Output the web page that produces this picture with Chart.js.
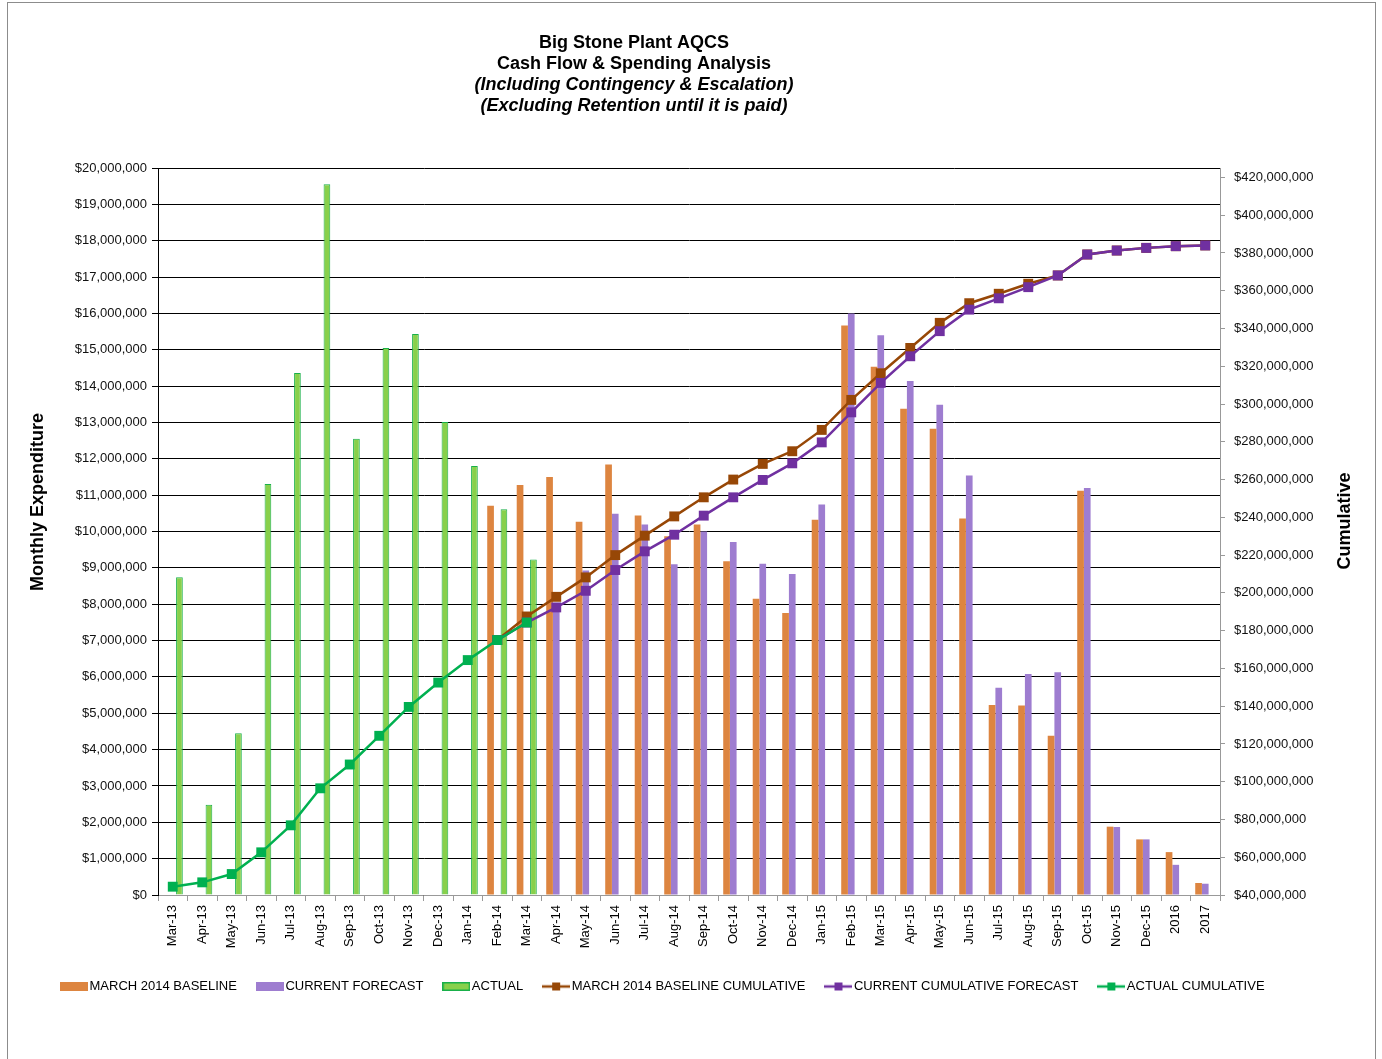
<!DOCTYPE html>
<html>
<head>
<meta charset="utf-8">
<script src="https://cdn.jsdelivr.net/npm/chart.js@4.4.0/dist/chart.umd.min.js"></script>
<style>
html, body { margin: 0; padding: 0; background: #fff; }
#frame { position: absolute; left: 7px; top: 2px; width: 1367px; height: 1080px; border: 1px solid #8c8c8c; }
#wrap { position: absolute; left: 0; top: 0; width: 1382px; height: 1059px; }
</style>
</head>
<body>
<div id="frame"></div>
<div id="wrap"><canvas id="myChart"></canvas></div>
<script>
// values in millions of dollars
const labels = ['Mar-13','Apr-13','May-13','Jun-13','Jul-13','Aug-13','Sep-13','Oct-13','Nov-13','Dec-13',
  'Jan-14','Feb-14','Mar-14','Apr-14','May-14','Jun-14','Jul-14','Aug-14','Sep-14','Oct-14','Nov-14','Dec-14',
  'Jan-15','Feb-15','Mar-15','Apr-15','May-15','Jun-15','Jul-15','Aug-15','Sep-15','Oct-15','Nov-15','Dec-15',
  '2016','2017'];

const baseline = [null,null,null,null,null,null,null,null,null,null,null,
  10.71, 11.28, 11.50, 10.27, 11.84, 10.44, 9.87, 10.19, 9.18, 8.15, 7.76,
  10.32, 15.67, 14.53, 13.38, 12.83, 10.36, 5.23, 5.21, 4.38, 11.12, 1.88, 1.53,
  1.18, 0.33];

const forecast = [null,null,null,null,null,null,null,null,null,null,null,null,null,
  8.00, 8.93, 10.49, 10.19, 9.10, 10.00, 9.71, 9.11, 8.83,
  10.74, 16.00, 15.40, 14.14, 13.49, 11.54, 5.70, 6.08, 6.13, 11.20, 1.87, 1.53,
  0.83, 0.31];

const actual = [8.74, 2.48, 4.45, 11.31, 14.36, 19.55, 12.55, 15.05, 15.43, 13.01,
  11.80, 10.61, 9.23];

const baselineCum = [null,null,null,null,null,null,null,null,null,null,null,
  175.0, 187.5, 197.9, 208.2, 220.0, 230.3, 240.5, 250.6, 260.0, 268.3, 275.0,
  286.3, 302.2, 316.3, 329.7, 343.0, 353.4, 358.4, 363.7, 368.1, 379.2, 381.3, 382.7,
  383.6, 384.0];

const forecastCum = [null,null,null,null,null,null,null,null,null,null,null,
  175.0, 184.3, 192.3, 201.1, 212.1, 222.0, 230.8, 240.9, 250.6, 259.8, 268.6,
  279.7, 295.6, 311.2, 325.3, 338.6, 350.0, 356.0, 361.9, 368.1, 379.2, 381.3, 382.7,
  383.6, 384.0];

const actualCum = [44.4, 46.7, 51.1, 62.6, 76.9, 96.5, 109.1, 124.3, 139.6, 152.5,
  164.4, 175.0, 184.3];

// right axis tick values (millions)
const cumTicks = [40, 60, 80, 100, 120, 140, 160, 180, 200, 220, 240, 260, 280, 300,
  320, 340, 360, 380, 400, 420];

const titleLines = ['Big Stone Plant AQCS', 'Cash Flow & Spending Analysis',
  '(Including Contingency & Escalation)', '(Excluding Retention until it is paid)'];

const ORANGE = '#dd8540', PURPLE = '#9e7dd0', GREEN = '#88d04b', GREEN_EDGE = '#19b04a';
const BROWN = '#974706', VIOLET = '#7030a0', EMERALD = '#00b050';

// legend font: narrow if we have it
function hasFont(name) {
  const c = document.createElement('canvas').getContext('2d');
  c.font = '16px monospace';
  const w1 = c.measureText('MARCH 2014 BASELINE').width;
  c.font = '16px "' + name + '", monospace';
  return c.measureText('MARCH 2014 BASELINE').width !== w1;
}
const legendFamily = hasFont('Liberation Sans Narrow') ? '"Liberation Sans Narrow"' : '"Liberation Sans"';
const legendSize = legendFamily.indexOf('Narrow') > 0 ? 16 : 13;

function barIcon(fill, edge) {
  const c = document.createElement('canvas');
  c.width = 28; c.height = 9;
  const g = c.getContext('2d');
  g.fillStyle = fill;
  g.fillRect(0, 0, 28, 9);
  if (edge) { g.strokeStyle = edge; g.lineWidth = 1.5; g.strokeRect(0.75, 0.75, 26.5, 7.5); }
  return c;
}
function lineIcon(color) {
  const c = document.createElement('canvas');
  c.width = 28; c.height = 10;
  const g = c.getContext('2d');
  g.strokeStyle = color; g.lineWidth = 2.5;
  g.beginPath(); g.moveTo(0, 5); g.lineTo(28, 5); g.stroke();
  g.fillStyle = color;
  g.fillRect(10, 1, 8, 8);
  return c;
}
const icons = [barIcon(ORANGE), barIcon(PURPLE), barIcon(GREEN, GREEN_EDGE),
  lineIcon(BROWN), lineIcon(VIOLET), lineIcon(EMERALD)];

function money(v) {
  return '$' + Math.round(v * 1000000).toLocaleString('en-US');
}

const textPlugin = {
  id: 'texts',
  afterDraw(chart) {
    const ctx = chart.ctx;
    ctx.save();
    ctx.fillStyle = '#000';
    ctx.textAlign = 'center';
    ctx.textBaseline = 'middle';
    titleLines.forEach((t, i) => {
      ctx.font = (i < 2 ? 'bold ' : 'italic bold ') + '18px "Liberation Sans", Arial, sans-serif';
      ctx.fillText(t, 634, 43 + i * 21);
    });
    ctx.font = 'bold 18px "Liberation Sans", Arial, sans-serif';
    ctx.save();
    ctx.translate(38, 502);
    ctx.rotate(-Math.PI / 2);
    ctx.fillText('Monthly Expenditure', 0, 0);
    ctx.restore();
    ctx.translate(1345, 521);
    ctx.rotate(-Math.PI / 2);
    ctx.fillText('Cumulative', 0, 0);
    ctx.restore();
  }
};

const tickFont = { family: '"Liberation Sans", Arial, sans-serif', size: 13 };

const ctx = document.getElementById('myChart');
const myChart = new Chart(ctx, {
  type: 'bar',
  data: {
    labels: labels,
    datasets: [
      { label: 'MARCH 2014 BASELINE', data: baseline, backgroundColor: ORANGE, yAxisID: 'y', order: 3 },
      { label: 'CURRENT FORECAST', data: forecast, backgroundColor: PURPLE, yAxisID: 'y', order: 3 },
      { label: 'ACTUAL', data: actual, backgroundColor: GREEN, borderColor: GREEN_EDGE, borderWidth: 1, yAxisID: 'y', order: 3 },
      { type: 'line', label: 'MARCH 2014 BASELINE CUMULATIVE', data: baselineCum, borderColor: BROWN, backgroundColor: BROWN,
        borderWidth: 2.5, pointStyle: 'rect', pointRadius: 7, pointBorderWidth: 0, yAxisID: 'y1', order: 2 },
      { type: 'line', label: 'CURRENT CUMULATIVE FORECAST', data: forecastCum, borderColor: VIOLET, backgroundColor: VIOLET,
        borderWidth: 2.5, pointStyle: 'rect', pointRadius: 7, pointBorderWidth: 0, yAxisID: 'y1', order: 1 },
      { type: 'line', label: 'ACTUAL CUMULATIVE', data: actualCum, borderColor: EMERALD, backgroundColor: EMERALD,
        borderWidth: 2.5, pointStyle: 'rect', pointRadius: 7, pointBorderWidth: 0, yAxisID: 'y1', order: 0 }
    ]
  },
  options: {
    responsive: true,
    maintainAspectRatio: false,
    animation: false,
    datasets: { bar: { categoryPercentage: 0.68, barPercentage: 1.0 } },
    layout: { padding: { left: 41, right: 0, top: 168, bottom: 56 } },
    plugins: {
      title: { display: false },
      tooltip: { enabled: false },
      legend: {
        position: 'bottom',
        align: 'start',
        labels: {
          usePointStyle: true,
          pointStyleWidth: 18,
          padding: 24,
          color: '#000',
          font: { family: legendFamily, size: legendSize },
          generateLabels: (chart) => chart.data.datasets.map((ds, i) => ({
            text: ds.label, fillStyle: ds.backgroundColor, strokeStyle: ds.backgroundColor,
            lineWidth: 0, pointStyle: icons[i], hidden: false, datasetIndex: i, fontColor: '#000'
          })),
          sort: (a, b) => a.datasetIndex - b.datasetIndex
        }
      }
    },
    scales: {
      x: {
        grid: { offset: true, drawOnChartArea: false, color: '#999', tickLength: 6 },
        border: { color: '#999' },
        ticks: { color: '#000', font: tickFont, minRotation: 90, maxRotation: 90, autoSkip: false, padding: 4 },
        afterFit: (s) => { s.height = 61; }
      },
      y: {
        position: 'left',
        min: 0, max: 20,
        grid: { color: '#000', tickColor: '#000', tickLength: 6 },
        border: { color: '#000' },
        ticks: { stepSize: 1, color: '#111', font: tickFont, padding: 5, callback: (v) => money(v) },
        afterFit: (s) => { s.width = 117; }
      },
      y1: {
        position: 'right',
        min: 40, max: 425,
        grid: { drawOnChartArea: false, color: '#999', tickLength: 5 },
        border: { color: '#999' },
        ticks: { color: '#111', font: tickFont, padding: 9, callback: (v) => money(v) },
        afterBuildTicks: (axis) => { axis.ticks = cumTicks.map(v => ({ value: v })); },
        afterFit: (s) => { s.width = 162; }
      }
    }
  },
  plugins: [textPlugin]
});
</script>
</body>
</html>
